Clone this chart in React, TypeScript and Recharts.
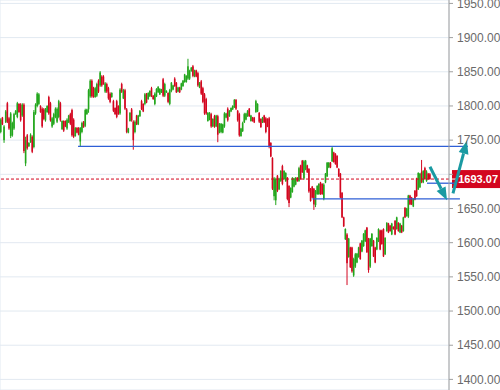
import React from 'react';
import { ComposedChart, Bar, XAxis, YAxis, CartesianGrid, ReferenceLine } from 'recharts';

const CHART_W = 500;
const CHART_H = 390;
const GREEN = '#22a61c';
const RED = '#d3061f';
const BLUE = '#2f5fd6';
const TEAL = '#1a9aa2';
const FONT = '"Liberation Sans", Arial, sans-serif';

// daily candles, oldest first
const OPEN = [
  1762, 1783, 1750, 1776, 1804, 1782, 1756, 1757, 1767, 1788, 1784, 1803, 1802, 1786, 1802, 1716, 1757, 1741, 1747, 1755, 1740, 1789, 1800, 1803, 1800, 1796, 1795, 1779, 1791, 1813, 1804, 1770, 1774, 1784, 1777, 1784, 1804, 1766, 1778, 1778, 1767, 1776, 1788, 1794, 1780, 1756,
  1768, 1768, 1748, 1762, 1777, 1771, 1788, 1795, 1814, 1837, 1826, 1813, 1815, 1837, 1830, 1843, 1843, 1821, 1832, 1826, 1818, 1813, 1807, 1797, 1807, 1800, 1789, 1832, 1811, 1823, 1795, 1761, 1778, 1795, 1777, 1762, 1786, 1773, 1785, 1807, 1803, 1803, 1818, 1810, 1814,
  1826, 1815, 1803, 1814, 1820, 1817, 1820, 1839, 1815, 1820, 1819, 1803, 1822, 1824, 1840, 1834, 1821, 1827, 1824, 1829, 1835, 1835, 1840, 1840, 1851, 1858, 1843, 1852, 1848, 1827, 1836, 1826, 1817, 1810, 1778, 1780, 1788, 1770, 1785, 1770, 1785, 1761, 1762, 1761,
  1770, 1783, 1796, 1785, 1792, 1795, 1798, 1809, 1793, 1788, 1756, 1763, 1776, 1780, 1785, 1796, 1778, 1783, 1783, 1791, 1792, 1790, 1781, 1776, 1786, 1782, 1781, 1782, 1746, 1724, 1668, 1662, 1698, 1678, 1690, 1712, 1693, 1690, 1695, 1683, 1666, 1674, 1682, 1685, 1695, 1690, 1713,
  1720, 1694, 1707, 1713, 1708, 1679, 1682, 1679, 1655, 1671, 1671, 1688, 1686, 1664, 1688, 1697, 1710, 1717, 1719, 1732, 1730, 1727, 1708, 1701, 1673, 1637, 1605, 1612, 1579, 1593, 1593, 1552, 1565, 1571, 1579, 1599, 1587, 1595, 1602, 1622, 1606, 1565, 1595, 1603,
  1593, 1590, 1602, 1618, 1618, 1620, 1583, 1617, 1628, 1625, 1612, 1623, 1632, 1620, 1629, 1615, 1625, 1617, 1651, 1639, 1638, 1669, 1666, 1653, 1676, 1694, 1678, 1681, 1703, 1688, 1709, 1690, 1701, 1700,
];
const HIGH = [
  1782, 1784, 1772, 1794, 1806, 1784, 1791, 1777, 1790, 1794, 1806, 1804, 1804, 1804, 1804, 1755, 1759, 1747, 1760, 1757, 1794, 1804, 1820, 1819, 1801, 1798, 1797, 1797, 1801, 1815, 1806, 1784, 1790, 1798, 1798, 1809, 1806, 1779, 1779, 1779, 1782, 1787, 1790, 1796, 1782, 1769,
  1769, 1769, 1769, 1777, 1778, 1796, 1796, 1825, 1839, 1839, 1828, 1828, 1834, 1839, 1851, 1845, 1845, 1835, 1834, 1828, 1820, 1820, 1809, 1798, 1809, 1801, 1826, 1834, 1825, 1825, 1797, 1768, 1791, 1797, 1779, 1779, 1787, 1787, 1794, 1809, 1804, 1819, 1819, 1820, 1823,
  1828, 1816, 1820, 1826, 1829, 1826, 1825, 1841, 1834, 1823, 1820, 1825, 1835, 1831, 1842, 1835, 1828, 1828, 1834, 1838, 1847, 1845, 1869, 1853, 1857, 1860, 1853, 1853, 1850, 1835, 1838, 1828, 1819, 1812, 1791, 1791, 1790, 1782, 1787, 1787, 1787, 1775, 1775, 1774,
  1791, 1790, 1798, 1794, 1798, 1801, 1810, 1810, 1794, 1790, 1768, 1777, 1790, 1790, 1794, 1797, 1787, 1784, 1784, 1809, 1804, 1791, 1782, 1784, 1787, 1784, 1782, 1784, 1747, 1725, 1696, 1695, 1699, 1695, 1706, 1714, 1706, 1703, 1696, 1684, 1681, 1696, 1695, 1696, 1696, 1711, 1714,
  1721, 1721, 1721, 1714, 1709, 1680, 1683, 1680, 1677, 1684, 1687, 1689, 1687, 1687, 1702, 1718, 1718, 1718, 1740, 1733, 1731, 1728, 1709, 1702, 1674, 1638, 1621, 1614, 1607, 1594, 1594, 1578, 1585, 1585, 1594, 1600, 1604, 1614, 1619, 1623, 1607, 1607, 1614, 1604,
  1594, 1608, 1621, 1619, 1619, 1621, 1608, 1630, 1629, 1626, 1629, 1624, 1633, 1638, 1630, 1629, 1626, 1638, 1652, 1651, 1670, 1670, 1667, 1665, 1677, 1695, 1703, 1702, 1721, 1706, 1711, 1706, 1702, 1702,
];
const LOW = [
  1760, 1772, 1746, 1775, 1775, 1765, 1753, 1755, 1765, 1787, 1782, 1790, 1777, 1784, 1731, 1712, 1736, 1740, 1746, 1731, 1738, 1787, 1798, 1801, 1790, 1768, 1779, 1777, 1790, 1787, 1777, 1768, 1772, 1782, 1775, 1782, 1777, 1765, 1762, 1769, 1765, 1775, 1772, 1755, 1753, 1755,
  1760, 1757, 1740, 1760, 1768, 1769, 1787, 1790, 1812, 1812, 1812, 1812, 1813, 1819, 1828, 1828, 1831, 1819, 1819, 1809, 1804, 1812, 1791, 1787, 1782, 1787, 1787, 1819, 1810, 1794, 1760, 1760, 1777, 1777, 1736, 1760, 1772, 1772, 1784, 1794, 1791, 1801, 1804, 1809, 1813,
  1813, 1809, 1801, 1813, 1819, 1816, 1819, 1813, 1813, 1819, 1804, 1801, 1820, 1823, 1828, 1819, 1820, 1819, 1823, 1828, 1834, 1834, 1838, 1838, 1850, 1842, 1842, 1842, 1828, 1826, 1816, 1804, 1787, 1787, 1777, 1779, 1768, 1769, 1768, 1769, 1747, 1760, 1760, 1760,
  1768, 1782, 1777, 1784, 1791, 1794, 1797, 1794, 1777, 1755, 1755, 1762, 1775, 1779, 1784, 1784, 1777, 1777, 1775, 1790, 1791, 1775, 1768, 1775, 1775, 1760, 1769, 1738, 1725, 1677, 1662, 1655, 1674, 1677, 1689, 1684, 1692, 1689, 1662, 1652, 1665, 1673, 1681, 1684, 1689, 1689, 1692,
  1702, 1692, 1706, 1702, 1673, 1660, 1665, 1648, 1652, 1670, 1670, 1670, 1670, 1662, 1687, 1696, 1709, 1709, 1718, 1717, 1714, 1709, 1696, 1665, 1636, 1623, 1604, 1538, 1578, 1563, 1556, 1550, 1563, 1570, 1578, 1575, 1586, 1594, 1601, 1585, 1556, 1563, 1594, 1579,
  1570, 1589, 1601, 1589, 1597, 1579, 1582, 1616, 1614, 1616, 1611, 1619, 1611, 1619, 1616, 1614, 1614, 1616, 1636, 1638, 1636, 1655, 1655, 1652, 1662, 1667, 1677, 1680, 1687, 1687, 1692, 1689, 1692, 1692,
];
const CLOSE = [
  1780, 1773, 1770, 1792, 1777, 1767, 1789, 1775, 1788, 1793, 1804, 1791, 1779, 1802, 1734, 1750, 1738, 1746, 1758, 1733, 1791, 1802, 1818, 1817, 1791, 1770, 1781, 1795, 1800, 1789, 1779, 1782, 1788, 1796, 1796, 1807, 1779, 1778, 1764, 1770, 1780, 1786, 1774, 1757, 1755, 1768,
  1761, 1758, 1768, 1775, 1769, 1794, 1795, 1823, 1837, 1814, 1813, 1826, 1832, 1821, 1849, 1830, 1832, 1833, 1821, 1811, 1806, 1819, 1793, 1788, 1784, 1788, 1824, 1821, 1823, 1796, 1762, 1767, 1790, 1779, 1750, 1777, 1773, 1786, 1793, 1795, 1792, 1817, 1805, 1819, 1822,
  1815, 1810, 1818, 1825, 1828, 1825, 1824, 1815, 1832, 1822, 1806, 1823, 1834, 1830, 1829, 1820, 1827, 1820, 1833, 1837, 1846, 1844, 1858, 1851, 1856, 1844, 1852, 1843, 1830, 1834, 1818, 1806, 1789, 1789, 1790, 1790, 1770, 1781, 1770, 1786, 1758, 1774, 1774, 1773,
  1789, 1789, 1779, 1793, 1797, 1800, 1809, 1796, 1779, 1757, 1767, 1775, 1788, 1789, 1793, 1785, 1786, 1778, 1776, 1807, 1803, 1777, 1769, 1783, 1776, 1762, 1770, 1740, 1726, 1679, 1694, 1693, 1676, 1694, 1705, 1686, 1705, 1702, 1664, 1658, 1680, 1694, 1694, 1695, 1690, 1709, 1693,
  1703, 1719, 1720, 1703, 1675, 1661, 1666, 1656, 1676, 1683, 1686, 1671, 1671, 1685, 1701, 1717, 1717, 1710, 1738, 1718, 1715, 1710, 1697, 1666, 1637, 1624, 1620, 1570, 1606, 1564, 1558, 1576, 1583, 1584, 1593, 1576, 1603, 1613, 1618, 1586, 1560, 1606, 1613, 1580,
  1571, 1607, 1620, 1590, 1598, 1580, 1607, 1629, 1615, 1617, 1628, 1620, 1612, 1637, 1617, 1628, 1615, 1637, 1637, 1650, 1669, 1656, 1656, 1664, 1663, 1668, 1702, 1701, 1689, 1705, 1693, 1704, 1693, 1693.07,
];

const LAST_PRICE = 1693.07;
const X_DOMAIN = [-0.5, 270.5];
const GRID_TICKS = [7, 72, 138, 205, 260];
const Y_DOMAIN = [1384.5, 1955];
const Y_TICKS = [1400, 1450, 1500, 1550, 1600, 1650, 1700, 1750, 1800, 1850, 1900, 1950];

// drawn support / resistance levels: [from index, to index, price]
const LEVELS = [
  [46.6, 281.9, 1741],
  [188.1, 277.1, 1664],
  [257.2, 273.5, 1687],
];
// arrows: [from index, from price, to index, to price]
const ARROWS = [
  [259, 1711, 269.3, 1662],
  [272.9, 1672, 281.3, 1749],
];

const data = OPEN.map((o, i) => ({ i, open: o, high: HIGH[i], low: LOW[i], close: CLOSE[i] }));

const Candle = (props: any) => {
  const { x, y, width, height, payload } = props;
  if (!payload || height == null) return null;
  const { open, close, high, low } = payload;
  const top = Math.min(y, y + height);
  const h = Math.abs(height);
  const k = high > low ? h / (high - low) : 0;
  const cx = x + width / 2;
  const yO = top + (high - open) * k;
  const yC = top + (high - close) * k;
  const color = close >= open ? GREEN : RED;
  return (
    <g>
      <line x1={cx} x2={cx} y1={top} y2={top + h} stroke={color} strokeWidth={1} />
      <rect x={cx - 0.8} width={1.6} y={Math.min(yO, yC)} height={Math.max(Math.abs(yC - yO), 1)} fill={color} />
    </g>
  );
};

const Arrow = (p: any) => {
  const { x1, y1, x2, y2 } = p;
  const a = Math.atan2(y2 - y1, x2 - x1);
  const len = 13;
  const half = 5;
  const bx = x2 - len * Math.cos(a);
  const by = y2 - len * Math.sin(a);
  const pts = [
    [x2, y2],
    [bx + half * Math.sin(a), by - half * Math.cos(a)],
    [bx - half * Math.sin(a), by + half * Math.cos(a)],
  ].map((q) => q.join(',')).join(' ');
  return (
    <g>
      <line x1={x1} y1={y1} x2={bx} y2={by} stroke={TEAL} strokeWidth={3} />
      <polygon points={pts} fill={TEAL} />
    </g>
  );
};

// the last-price tag sits over the axis and hides the label under it
const YTick = ({ x, y, payload }: any) => {
  if (Math.abs(payload.value - LAST_PRICE) < 12) return null;
  return (
    <text x={x} y={y} dy="0.355em" textAnchor="start" fill="#6a6a6a" fontSize={12} fontFamily={FONT}>
      {payload.value.toFixed(2)}
    </text>
  );
};

const PriceTag = ({ viewBox }: any) => {
  if (!viewBox) return null;
  const { x, y, width } = viewBox;
  const left = x + width + 3;
  return (
    <g>
      <rect x={left} y={y - 9} width={CHART_W - left} height={18} fill={RED} />
      <line x1={left} x2={left + 4} y1={y} y2={y} stroke="#fff" />
      <text x={CHART_W - 2} y={y + 4} textAnchor="end" fill="#fff" fontSize={11} fontWeight="bold" fontFamily={FONT}>
        {LAST_PRICE.toFixed(2)}
      </text>
    </g>
  );
};

export default function App() {
  return (
    <div style={{ position: 'absolute', left: 0, top: 0, width: CHART_W, height: CHART_H, background: '#fff' }}>
      <ComposedChart width={CHART_W} height={CHART_H} data={data} margin={{ top: 0, right: 0, bottom: 0, left: 0 }}>
        <CartesianGrid stroke="#e2e9f1" />
        <XAxis
          dataKey="i"
          type="number"
          domain={X_DOMAIN}
          ticks={GRID_TICKS}
          interval={0}
          allowDataOverflow
          tick={false}
          axisLine={false}
          tickLine={false}
          height={0}
        />
        <YAxis
          orientation="right"
          width={51}
          domain={Y_DOMAIN}
          ticks={Y_TICKS}
          interval={0}
          allowDataOverflow
          tick={YTick}
          stroke="#a0a0a0"
          tickSize={4}
          tickMargin={4}
        />
        <Bar dataKey={(d: any) => [d.low, d.high]} barSize={2} shape={Candle} isAnimationActive={false} />
        <ReferenceLine y={LAST_PRICE} stroke={RED} strokeDasharray="3 2" ifOverflow="visible" label={PriceTag} />
        {LEVELS.map(([a, b, v], k) => (
          <ReferenceLine
            key={`lvl-${k}`}
            segment={[{ x: a, y: v }, { x: b, y: v }]}
            stroke={BLUE}
            strokeWidth={1.3}
            ifOverflow="visible"
          />
        ))}
        {ARROWS.map(([a, va, b, vb], k) => (
          <ReferenceLine
            key={`arr-${k}`}
            segment={[{ x: a, y: va }, { x: b, y: vb }]}
            ifOverflow="visible"
            shape={Arrow}
          />
        ))}
      </ComposedChart>
    </div>
  );
}
